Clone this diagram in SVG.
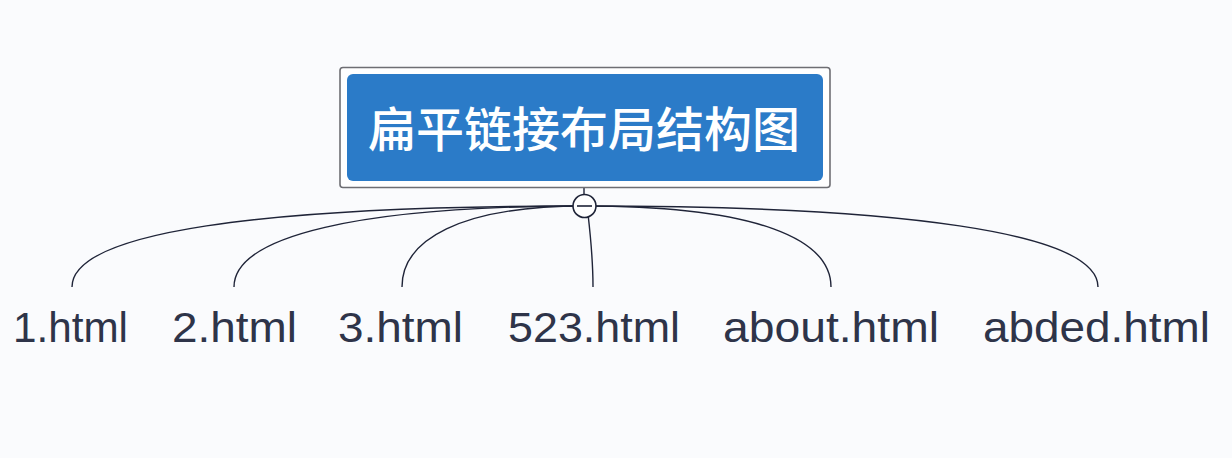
<svg xmlns="http://www.w3.org/2000/svg" width="1232" height="458" viewBox="0 0 1232 458">
<style>
.bg{fill:#fafbfd}
.edge{fill:none;stroke:#1f2438;stroke-width:1.4}
.leaf{font-family:"Liberation Sans","Noto Sans",sans-serif;font-size:42px;fill:#2e3449}
.title{font-family:"Noto Sans CJK SC","Noto Sans",sans-serif;font-size:48px;font-weight:500;fill:#ffffff;text-anchor:middle}
</style>
<rect class="bg" x="0" y="0" width="1232" height="458"/>
<g id="connectors">
<path class="edge" d="M584,182 L584,195"/>
<path class="edge" d="M584,206 C260,206 72,232 72,287"/>
<path class="edge" d="M584,206 C360,206 234,236 234,287"/>
<path class="edge" d="M584,206 C460,206 402,240 402,287"/>
<path class="edge" d="M588,214 C591,240 593,262 593,287"/>
<path class="edge" d="M584,206 C760,206 831,240 831,287"/>
<path class="edge" d="M584,206 C900,206 1098,232 1098,287"/>
</g>
<g id="root">
<rect x="340" y="67.5" width="490" height="120" rx="3" fill="#ffffff" stroke="#6e6e73" stroke-width="1.6"/>
<rect x="347" y="74" width="476" height="107" rx="6" fill="#2b7bc8"/>
<text class="title" x="584" y="147">扁平链接布局结构图</text>
</g>
<g id="collapse">
<circle cx="584.5" cy="206" r="11.5" fill="#ffffff" stroke="#1f2438" stroke-width="1.6"/>
<line x1="577" y1="206" x2="592" y2="206" stroke="#1f2438" stroke-width="1.6"/>
</g>
<g id="n1"><text class="leaf" x="13" y="342" textLength="115" lengthAdjust="spacingAndGlyphs">1.html</text></g>
<g id="n2"><text class="leaf" x="172" y="342" textLength="125" lengthAdjust="spacingAndGlyphs">2.html</text></g>
<g id="n3"><text class="leaf" x="338" y="342" textLength="125" lengthAdjust="spacingAndGlyphs">3.html</text></g>
<g id="n4"><text class="leaf" x="508" y="342" textLength="172" lengthAdjust="spacingAndGlyphs">523.html</text></g>
<g id="n5"><text class="leaf" x="723" y="342" textLength="216" lengthAdjust="spacingAndGlyphs">about.html</text></g>
<g id="n6"><text class="leaf" x="983" y="342" textLength="227" lengthAdjust="spacingAndGlyphs">abded.html</text></g>
</svg>
